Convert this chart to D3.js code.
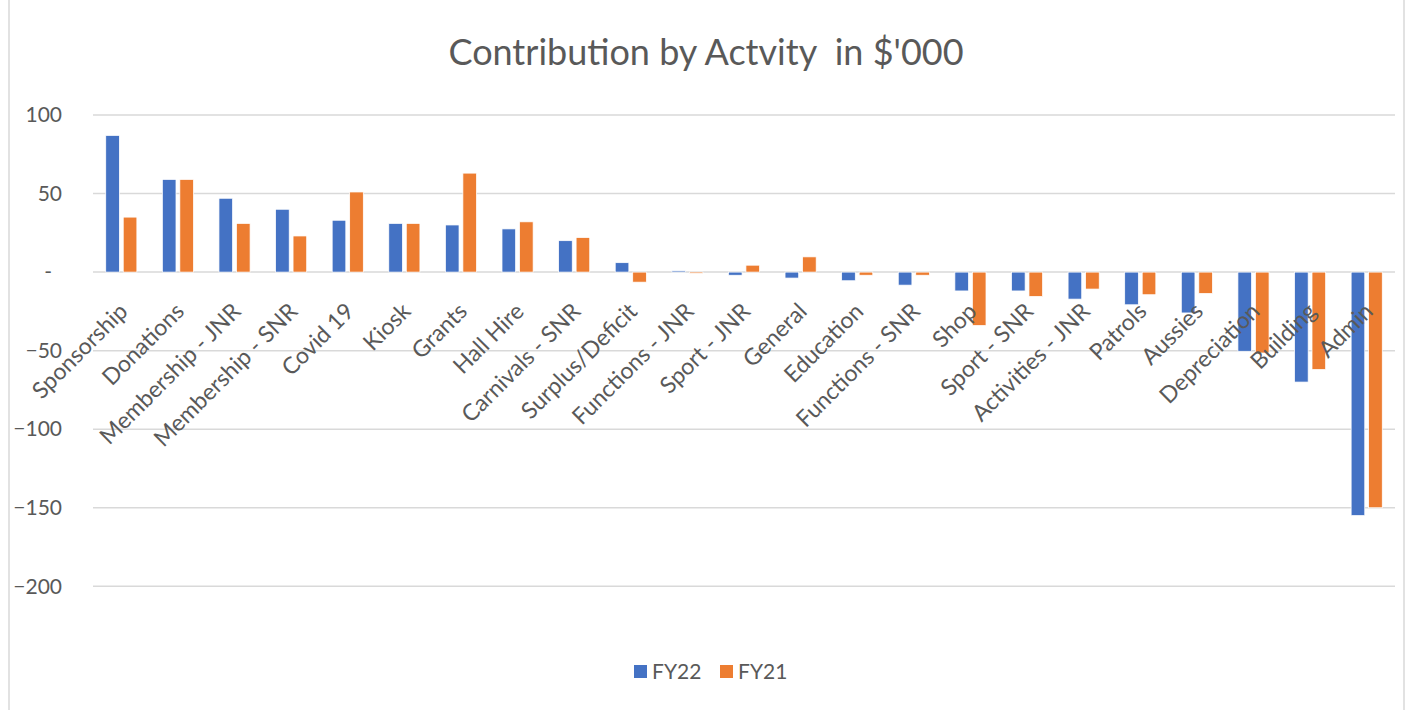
<!DOCTYPE html>
<html>
<head>
<meta charset="utf-8">
<script src="https://cdn.jsdelivr.net/npm/d3@7"></script>
<style>
  html, body { margin: 0; padding: 0; background: #fff; }
  svg { display: block; }
</style>
</head>
<body>
<svg id="chart" width="1408" height="710"></svg>
<script>
const categories = ["Sponsorship","Donations","Membership - JNR","Membership - SNR","Covid 19","Kiosk","Grants","Hall Hire","Carnivals - SNR","Surplus/Deficit","Functions - JNR","Sport - JNR","General","Education","Functions - SNR","Shop","Sport - SNR","Activities - JNR","Patrols","Aussies","Depreciation","Building","Admin"];
const fy22 = [87, 59, 47, 40, 33, 31, 30, 27.5, 20, 6, 0.8, -2, -3.8, -5.5, -8.3, -12, -12, -17.2, -20.8, -26, -50.4, -70, -155];
const fy21 = [35, 59, 31, 23, 51, 31, 63, 32, 22, -6.4, -0.8, 4.4, 9.7, -2, -2, -34, -15.5, -10.8, -14.4, -13.6, -51.5, -62, -150];
const seriesNames = ["FY22", "FY21"];
const yTicks = [100, 50, 0, -50, -100, -150, -200];
const title = "Contribution by Actvity  in $'000";

const colors = { FY22: "#4472C4", FY21: "#ED7D31" };
const FONT = "Lato, 'Open Sans', sans-serif";
const TEXT = "#595959";
const GRID = "#D9D9D9";

const svg = d3.select("#chart");
const W = 1408, H = 710;
const plot = { left: 93, right: 1395, top: 115, bottom: 586.3 };

// chart border
svg.append("rect").attr("x", 9).attr("y", -2).attr("width", 1395).attr("height", H + 4)
  .attr("fill", "#fff").attr("stroke", GRID).attr("stroke-width", 1.5);

const x0 = d3.scaleBand().domain(categories).range([plot.left, plot.right]).paddingInner(0.45).paddingOuter(0.225);
const x1 = d3.scaleBand().domain(seriesNames).range([0, x0.bandwidth()]).paddingInner(0.22);
const y = d3.scaleLinear().domain([-200, 100]).range([plot.bottom, plot.top]);

// gridlines
svg.append("g").selectAll("line").data(yTicks).join("line")
  .attr("x1", plot.left).attr("x2", plot.right)
  .attr("y1", d => y(d)).attr("y2", d => y(d))
  .attr("stroke", GRID).attr("stroke-width", 1.5);

// y axis labels
const yAxis = d3.axisLeft(y).tickValues(yTicks).tickSize(0).tickPadding(0)
  .tickFormat(d => d === 0 ? "-" : d3.format("d")(d));
const yg = svg.append("g").attr("transform", `translate(62,0)`).call(yAxis);
yg.select(".domain").remove();
yg.selectAll("text").attr("font-family", FONT).attr("font-size", 21).attr("fill", TEXT)
  .attr("dx", d => d === 0 ? -10 : 0);

// bars
const data = categories.map((c, i) => ({ cat: c, values: [{ s: "FY22", v: fy22[i] }, { s: "FY21", v: fy21[i] }] }));
const groups = svg.append("g").selectAll("g").data(data).join("g")
  .attr("transform", d => `translate(${x0(d.cat)},0)`);
groups.selectAll("rect").data(d => d.values).join("rect")
  .attr("x", d => x1(d.s))
  .attr("width", x1.bandwidth())
  .attr("y", d => y(Math.max(0, d.v)))
  .attr("height", d => Math.abs(y(d.v) - y(0)))
  .attr("fill", d => colors[d.s])
  .attr("stroke", "#fff").attr("stroke-width", 0.75);

// x labels
const xAxis = d3.axisBottom(x0).tickSize(0).tickPadding(0);
const xg = svg.append("g").attr("transform", `translate(0,${y(0)})`).call(xAxis);
xg.select(".domain").remove();
xg.selectAll("text")
  .attr("font-family", FONT).attr("font-size", 23).attr("fill", TEXT)
  .attr("text-anchor", "end")
  .attr("y", 0).attr("dy", "0.35em")
  .attr("transform", "translate(2,35) rotate(-45)");

// title
svg.append("text").attr("x", 706).attr("y", 65).attr("text-anchor", "middle")
  .style("white-space", "pre")
  .attr("font-family", FONT).attr("font-size", 36).attr("fill", TEXT).text(title);

// legend
const legX = { FY22: 634, FY21: 720 };
const leg = svg.append("g").selectAll("g").data(seriesNames).join("g")
  .attr("transform", d => `translate(${legX[d]},0)`);
leg.append("rect").attr("x", 0).attr("y", 665).attr("width", 13).attr("height", 13)
  .attr("fill", d => colors[d]);
leg.append("text").attr("x", 18).attr("y", 679).attr("font-family", FONT).attr("font-size", 21)
  .attr("fill", TEXT).text(d => d);
</script>
</body>
</html>
